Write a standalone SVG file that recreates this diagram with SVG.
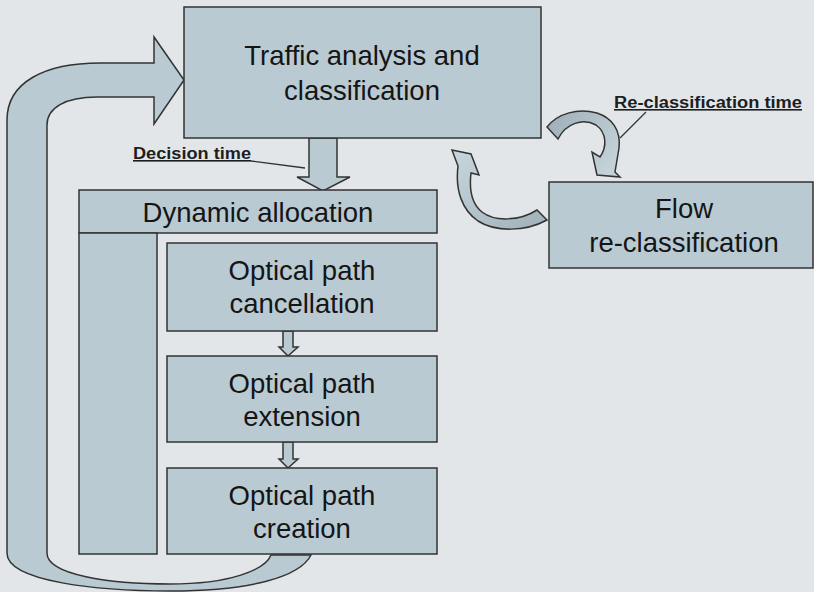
<svg xmlns="http://www.w3.org/2000/svg" width="814" height="592" viewBox="0 0 814 592">
<defs>
<style>
.box{fill:#b9cad3;stroke:#333;stroke-width:1.5}
.arr{fill:#b9cad2;stroke:#333;stroke-width:1.5;stroke-linejoin:miter}
.t{font-family:"Liberation Sans",Arial,sans-serif;font-size:27.5px;fill:#151515;text-anchor:middle}
.lbl{font-family:"Liberation Sans",Arial,sans-serif;font-weight:bold;font-size:16px;fill:#1e1e1e;text-decoration:underline}
.lead{stroke:#333;stroke-width:1.3;fill:none}
</style>
<linearGradient id="g1" x1="0" y1="0" x2="1" y2="0.6">
<stop offset="0" stop-color="#9cadb6"/>
<stop offset="1" stop-color="#c3d2d9"/>
</linearGradient>
<linearGradient id="g2" x1="1" y1="1" x2="0" y2="0">
<stop offset="0" stop-color="#9fb0b9"/>
<stop offset="1" stop-color="#c8d7de"/>
</linearGradient>
</defs>
<rect width="814" height="592" fill="#e3e6e9"/>

<g id="connectors">
<path id="loop-back" class="arr" d="M184,80 L154,124 L154,97 L97,97 C65,97 47,108 47,125 L47,553 C47,575 110,584 170,584 C230,584 265,570 271,555 L311,555 C300,577 250,591 170,591 C100,591 7,582 7,553 L7,120 C7,82 45,63 100,63 L154,63 L154,37 Z"/>
<path id="to-allocation" class="arr" d="M309,138 L337,138 L337,177 L350,177 L323,191 L297,177 L309,177 Z"/>
<path id="cancel-to-ext" class="arr" stroke-width="1" d="M283,331 L293,331 L293,347 L298,347 L288,356 L279,347 L283,347 Z"/>
<path id="ext-to-create" class="arr" stroke-width="1" d="M283,442 L293,442 L293,459 L298,459 L288,468 L279,459 L283,459 Z"/>
<path id="to-reclass" fill="url(#g1)" stroke="#333" stroke-width="1.5" d="M547,127 C558,113 578,108 597,113 C612,118 621,130 619,148 L615,172 L620,177 L597,175 L592,152 L600,157 C607,147 607,133 596,125 C583,118 566,123 558,139 Z"/>
<path id="from-reclass" fill="url(#g2)" stroke="#333" stroke-width="1.5" d="M537,210 C520,221 495,222 482,212 C472,204 469,190 471,173 L479,175 L471,154 L452,150 L458,166 C455,190 462,210 478,221 C495,232 525,232 547,220 Z"/>
<line class="lead" x1="251" y1="161" x2="305" y2="168"/>
<line class="lead" x1="646" y1="112" x2="620" y2="138"/>
<text class="lbl" x="133" y="159" textLength="118" lengthAdjust="spacingAndGlyphs">Decision time</text>
<text class="lbl" x="614" y="108" textLength="188" lengthAdjust="spacingAndGlyphs">Re-classification time</text>
</g>

<g id="traffic">
<rect class="box" x="184" y="7" width="357" height="131"/>
<text class="t" x="362" y="65">Traffic analysis and</text>
<text class="t" x="362" y="100">classification</text>
</g>

<g id="allocation">
<rect class="box" x="79" y="190" width="358" height="43"/>
<rect class="box" x="79" y="233" width="78" height="321"/>
<text class="t" x="258" y="222">Dynamic allocation</text>
</g>

<g id="cancellation">
<rect class="box" x="167" y="243" width="270" height="88"/>
<text class="t" x="302" y="280">Optical path</text>
<text class="t" x="302" y="313">cancellation</text>
</g>

<g id="extension">
<rect class="box" x="167" y="356" width="270" height="86"/>
<text class="t" x="302" y="393">Optical path</text>
<text class="t" x="302" y="426">extension</text>
</g>

<g id="creation">
<rect class="box" x="167" y="468" width="270" height="86"/>
<text class="t" x="302" y="505">Optical path</text>
<text class="t" x="302" y="538">creation</text>
</g>

<g id="reclassification">
<rect class="box" x="549" y="182" width="264" height="86"/>
<text class="t" x="684" y="218">Flow</text>
<text class="t" x="684" y="252">re-classification</text>
</g>
</svg>
